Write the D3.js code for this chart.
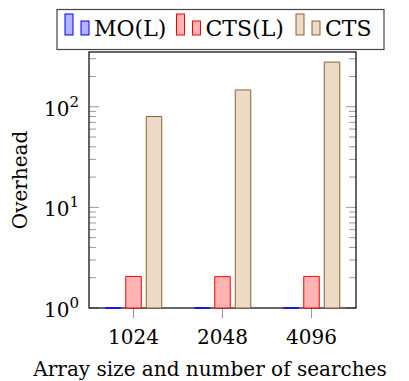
<!DOCTYPE html>
<html>
<head>
  <script src="https://d3js.org/d3.v7.min.js"></script>
  <style>
    body { margin: 0; background: #fff; }
  </style>
</head>
<body>
  <svg id="chart" width="409" height="381"></svg>
  <script>
    // data
    var categories = ["1024", "2048", "4096"];
    var moL  = [1, 1, 1];
    var ctsL = [2.06, 2.05, 2.06];
    var cts  = [80, 147, 278];
    var yTicks = [1, 10, 100];

    var series = [
      { name: "MO(L)",  values: moL,  fill: "#b3b3ff", stroke: "#0000ff", offset: -1 },
      { name: "CTS(L)", values: ctsL, fill: "#ffb3b3", stroke: "#ff0000", offset: 0 },
      { name: "CTS",    values: cts,  fill: "#ecd9c6", stroke: "#8c6239", offset: 1 }
    ];

    var plotL = 89, plotR = 356, plotT = 52, plotB = 308;
    var barW = 15.5, barGap = 20.5;
    var fontSize = 20;
    var serif = "DejaVu Serif";

    var svg = d3.select("#chart");

    var x = d3.scalePoint()
      .domain(categories)
      .range([plotL, plotR])
      .padding(0.5);

    var y = d3.scaleLog()
      .domain([1, 350])
      .range([plotB, plotT]);

    // minor ticks for log axis
    var minor = [];
    [1, 10, 100].forEach(function(dec) {
      for (var k = 2; k <= 9; k++) {
        if (dec * k <= y.domain()[1]) minor.push(dec * k);
      }
    });

    var ticks = svg.append("g").attr("stroke", "#999").attr("stroke-width", 1);
    yTicks.forEach(function(v) {
      ticks.append("line").attr("x1", plotL).attr("x2", plotL + 10).attr("y1", y(v)).attr("y2", y(v));
      ticks.append("line").attr("x1", plotR).attr("x2", plotR - 10).attr("y1", y(v)).attr("y2", y(v));
    });
    minor.forEach(function(v) {
      ticks.append("line").attr("x1", plotL).attr("x2", plotL + 7).attr("y1", y(v)).attr("y2", y(v));
      ticks.append("line").attr("x1", plotR).attr("x2", plotR - 7).attr("y1", y(v)).attr("y2", y(v));
    });
    categories.forEach(function(c) {
      ticks.append("line").attr("x1", x(c)).attr("x2", x(c)).attr("y1", plotB).attr("y2", plotB + 10);
    });

    // frame
    svg.append("rect")
      .attr("x", plotL).attr("y", plotT)
      .attr("width", plotR - plotL).attr("height", plotB - plotT)
      .attr("fill", "none").attr("stroke", "#000").attr("stroke-width", 1.2);

    // bars
    series.forEach(function(s) {
      svg.append("g").selectAll("path")
        .data(s.values)
        .enter().append("path")
        .attr("d", function(d, i) {
          var x0 = x(categories[i]) + s.offset * barGap - barW / 2;
          return "M" + x0 + "," + y(1) + "V" + y(d) + "H" + (x0 + barW) + "V" + y(1) + "Z";
        })
        .attr("fill", s.fill)
        .attr("stroke", s.stroke)
        .attr("stroke-width", 1);
    });

    // y tick labels 10^k
    yTicks.forEach(function(v) {
      var t = svg.append("text")
        .attr("x", 79).attr("y", y(v) + 9)
        .attr("text-anchor", "end")
        .attr("font-family", serif)
        .attr("font-size", fontSize);
      t.append("tspan").text("10");
      t.append("tspan").attr("dy", -9).attr("font-size", 15).text(Math.round(Math.log10(v)));
    });

    // x tick labels
    svg.append("g").selectAll("text")
      .data(categories)
      .enter().append("text")
      .attr("x", function(d) { return x(d); })
      .attr("y", 344)
      .attr("text-anchor", "middle")
      .attr("font-family", serif)
      .attr("font-size", fontSize)
      .text(function(d) { return d; });

    // axis titles
    svg.append("text")
      .attr("x", 210).attr("y", 376)
      .attr("text-anchor", "middle")
      .attr("font-family", serif)
      .attr("font-size", fontSize)
      .text("Array size and number of searches");

    svg.append("text")
      .attr("transform", "translate(27," + ((plotT + plotB) / 2) + ") rotate(-90)")
      .attr("text-anchor", "middle")
      .attr("font-family", serif)
      .attr("font-size", fontSize)
      .text("Overhead");

    // legend
    var lg = svg.append("g");
    lg.append("rect")
      .attr("x", 57).attr("y", 9.5)
      .attr("width", 327).attr("height", 40)
      .attr("fill", "#fff").attr("stroke", "#444").attr("stroke-width", 1.2);

    var legendX = [65, 176.5, 296];
    series.forEach(function(s, i) {
      var lx = legendX[i];
      lg.append("rect").attr("x", lx).attr("y", 14).attr("width", 8).attr("height", 21)
        .attr("fill", s.fill).attr("stroke", s.stroke).attr("stroke-width", 1);
      lg.append("rect").attr("x", lx + 16).attr("y", 21).attr("width", 8).attr("height", 14)
        .attr("fill", s.fill).attr("stroke", s.stroke).attr("stroke-width", 1);
      lg.append("text")
        .attr("x", lx + 29).attr("y", 36)
        .attr("font-family", serif)
        .attr("font-size", 22)
        .text(s.name);
    });
  </script>
</body>
</html>
